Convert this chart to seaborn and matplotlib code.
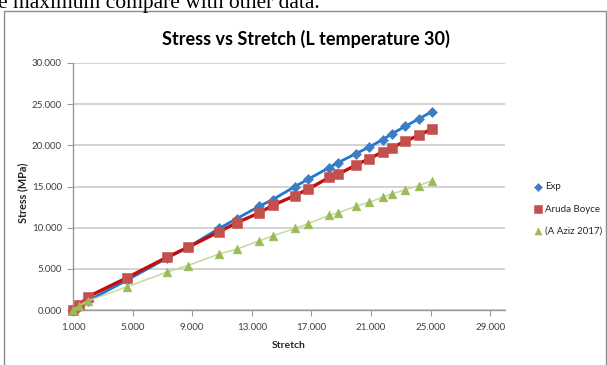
import matplotlib
matplotlib.use("Agg")
import matplotlib.pyplot as plt
import numpy as np
import pandas as pd
import seaborn as sns
from matplotlib.patches import Rectangle

# Stretch values shared by all series
stretch = [1.0, 1.4, 2.0, 4.6, 7.3, 8.7, 10.8, 12.0, 13.5, 14.4, 15.9,
           16.8, 18.2, 18.8, 20.0, 20.9, 21.8, 22.4, 23.3, 24.2, 25.1]

# Stress (MPa) per series
stress_exp = [0.0, 0.4, 1.1, 3.6, 6.3, 7.6, 9.9, 11.1, 12.6, 13.4, 15.0,
              15.9, 17.3, 17.9, 19.0, 19.8, 20.7, 21.4, 22.3, 23.2, 24.1]
stress_aruda = [0.0, 0.6, 1.6, 3.9, 6.4, 7.6, 9.5, 10.6, 11.8, 12.7, 13.9,
                14.7, 16.1, 16.5, 17.6, 18.4, 19.2, 19.7, 20.5, 21.2, 22.0]
stress_aziz = [0.0, 0.5, 1.1, 2.8, 4.6, 5.4, 6.8, 7.4, 8.4, 9.0, 9.9,
               10.5, 11.5, 11.8, 12.6, 13.1, 13.7, 14.1, 14.6, 15.1, 15.7]

series_names = ["Exp", "Aruda Boyce", "(A Aziz 2017)"]
x_ticks = [1, 5, 9, 13, 17, 21, 25, 29]
y_ticks = [0, 5, 10, 15, 20, 25, 30]

sns.set_theme(style="white")
plt.rcParams["font.family"] = ["Lato", "DejaVu Sans"]

W, H = 607, 365
fig = plt.figure(figsize=(W / 100, H / 100), dpi=100)
fig.patch.set_facecolor("white")


def fx(px):
    return px / W


def fy(py):
    return 1 - py / H


# running text of the surrounding document, cut by the top edge
fig.text(fx(-2), fy(8), "e maximum compare with other data.",
         family=["Liberation Serif", "DejaVu Serif"], fontsize=15.5,
         color="black", va="baseline", ha="left")

# chart frame
fig.patches.append(Rectangle((fx(4), fy(367)), fx(602) - fx(0), fy(11) - fy(367),
                             transform=fig.transFigure, fill=False,
                             edgecolor="#8c8c8c", linewidth=1.0))

ax = fig.add_axes([fx(73), fy(310), fx(505) - fx(73), fy(63) - fy(310)])
ax.set_facecolor("white")

df = pd.DataFrame({
    "Stretch": stretch * 3,
    "Stress": stress_exp + stress_aruda + stress_aziz,
    "Series": [series_names[0]] * len(stretch)
              + [series_names[1]] * len(stretch)
              + [series_names[2]] * len(stretch),
})

styles = {
    "Exp": dict(line="#1f78d1", lw=2.0, mk="#3f7cc6", marker="D", s=26),
    "Aruda Boyce": dict(line="#c40d0d", lw=2.4, mk="#c4504d", marker="s", s=46),
    "(A Aziz 2017)": dict(line="#c5d89e", lw=1.1, mk="#9bbb59", marker="^", s=40),
}

for i, name in enumerate(series_names):
    sub = df[df["Series"] == name]
    st = styles[name]
    sns.lineplot(data=sub, x="Stretch", y="Stress", ax=ax, color=st["line"],
                 linewidth=st["lw"], sort=False, estimator=None,
                 zorder=3 + 2 * i, legend=False)
    sns.scatterplot(data=sub, x="Stretch", y="Stress", ax=ax, color=st["mk"],
                    marker=st["marker"], s=st["s"], edgecolor=st["mk"],
                    linewidth=0.4, zorder=4 + 2 * i, label=name, clip_on=False)

ax.set_xlim(1, 30)
ax.set_ylim(0, 30)
ax.set_xticks(x_ticks)
ax.set_yticks(y_ticks)
ax.set_xticklabels([f"{v:.3f}" for v in x_ticks])
ax.set_yticklabels([f"{v:.3f}" for v in y_ticks])

ax.grid(axis="y", color="#d0d0d0", linewidth=1.3)
ax.grid(axis="x", visible=False)
ax.set_axisbelow(True)
for side in ["top", "right"]:
    ax.spines[side].set_visible(False)
for side in ["left", "bottom"]:
    ax.spines[side].set_color("#9a9a9a")
    ax.spines[side].set_linewidth(1.0)

ax.tick_params(axis="x", direction="out", length=4, width=0.8, color="#9a9a9a",
               labelsize=7, labelcolor="#404040", pad=5, bottom=True)
ax.tick_params(axis="y", direction="out", length=4, width=0.8, color="#9a9a9a",
               labelsize=7, labelcolor="#404040", pad=4, left=True)

ax.set_xlabel("Stretch", fontsize=7.5, fontweight="bold", color="#262626", va="center")
ax.xaxis.set_label_coords(0.5, (310 - 345) / 247)
ax.set_ylabel("Stress (MPa)", fontsize=7.8, fontweight="bold", color="#262626", va="center")
ax.yaxis.set_label_coords((23 - 73) / 432, (310 - 193) / 247)

fig.text(fx(306), fy(39), "Stress vs Stretch (L temperature 30)",
         family=["Liberation Sans Narrow", "Lato", "DejaVu Sans"],
         fontsize=13, fontweight="bold", color="black", ha="center", va="center")

handles, labels = ax.get_legend_handles_labels()
ax.legend(handles, labels, loc="center left", bbox_to_anchor=(fx(533), fy(209)),
          bbox_transform=fig.transFigure, frameon=False, fontsize=7,
          handlelength=1.0, handletextpad=0.2, labelspacing=1.35, borderpad=0,
          borderaxespad=0, markerscale=0.8, labelcolor="#262626")

fig.savefig("out.png", dpi=100, facecolor="white")
